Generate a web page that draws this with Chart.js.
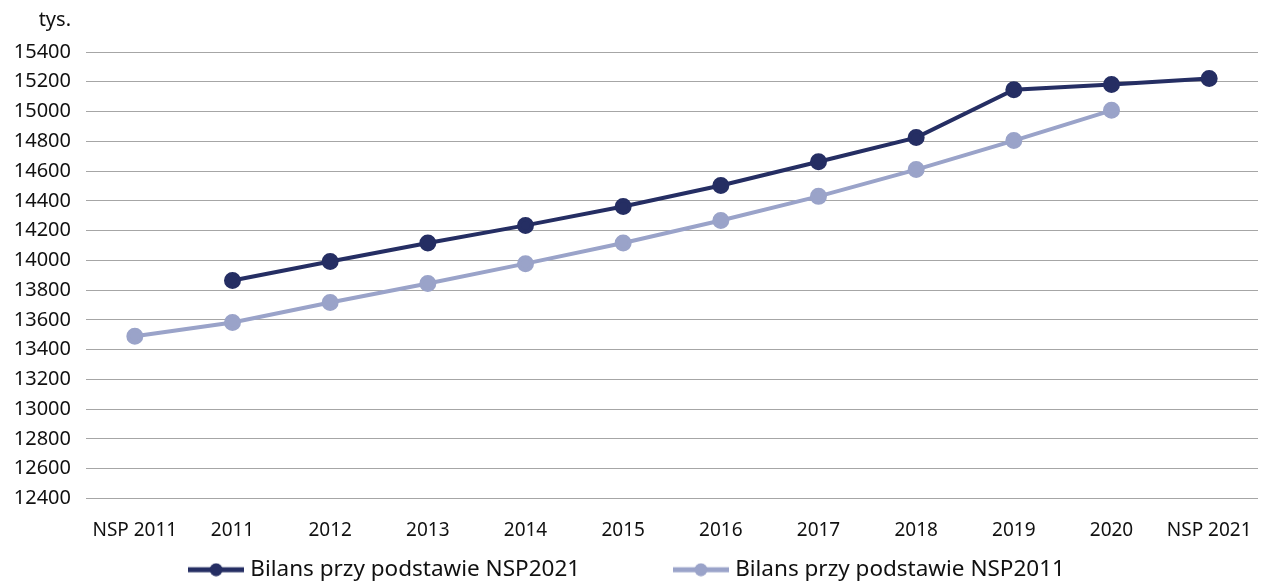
<!DOCTYPE html>
<html>
<head>
<meta charset="utf-8">
<script src="https://cdn.jsdelivr.net/npm/chart.js@4"></script>
<style>
  html, body { margin: 0; padding: 0; background: #fff; }
  #wrap { width: 1263px; height: 583px; }
</style>
</head>
<body>
<div id="wrap"><canvas id="chart"></canvas></div>
<script>
// dane (tys.)
var categories = ["NSP 2011", "2011", "2012", "2013", "2014", "2015", "2016", "2017", "2018", "2019", "2020", "NSP 2021"];
var bilans2021 = [null, 13865, 13992, 14117, 14235, 14362, 14503, 14663, 14825, 15147, 15182, 15222];
var bilans2011 = [13490, 13583, 13717, 13845, 13978, 14117, 14268, 14430, 14610, 14805, 15008, null];
var seriesNames = ["Bilans przy podstawie NSP2021", "Bilans przy podstawie NSP2011"];
var seriesColors = ["#252e63", "#9aa3c9"];
var unitLabel = "tys.";

Chart.defaults.font.family = "'Noto Sans', 'Open Sans', sans-serif";
Chart.defaults.color = "#111";

function legendIcon(color) {
  var c = document.createElement("canvas");
  c.width = 56; c.height = 14;
  var g = c.getContext("2d");
  g.strokeStyle = color;
  g.lineWidth = 5;
  g.beginPath(); g.moveTo(0, 7); g.lineTo(56, 7); g.stroke();
  g.fillStyle = color;
  g.beginPath(); g.arc(28, 7, 6.5, 0, Math.PI * 2); g.fill();
  return c;
}

var unitPlugin = {
  id: "unitLabel",
  afterDraw: function (chart) {
    var y = chart.scales.y, ctx = chart.ctx;
    ctx.save();
    ctx.font = "20px 'Noto Sans', sans-serif";
    ctx.fillStyle = "#111";
    ctx.textAlign = "right";
    ctx.textBaseline = "middle";
    ctx.fillText(unitLabel, y.right - 15, y.top - 32);
    ctx.restore();
  }
};

new Chart(document.getElementById("chart"), {
  type: "line",
  data: {
    labels: categories,
    datasets: [{
      label: seriesNames[0],
      data: bilans2021,
      borderColor: seriesColors[0],
      backgroundColor: seriesColors[0],
      borderWidth: 4,
      pointRadius: 6.5,
      pointHoverRadius: 6.5,
      tension: 0
    }, {
      label: seriesNames[1],
      data: bilans2011,
      borderColor: seriesColors[1],
      backgroundColor: seriesColors[1],
      borderWidth: 4,
      pointRadius: 6.5,
      pointHoverRadius: 6.5,
      tension: 0
    }]
  },
  options: {
    responsive: true,
    maintainAspectRatio: false,
    animation: false,
    layout: { autoPadding: false, padding: { top: 52, right: 5, left: 0, bottom: -8 } },
    scales: {
      x: {
        offset: true,
        grid: { display: false },
        border: { display: false },
        ticks: { font: { size: 19 }, color: "#111", padding: 13, maxRotation: 0, autoSkip: false },
        afterFit: function (scale) {
          scale.height = 50;
          scale.paddingLeft = 0;
          scale.paddingRight = 0;
        }
      },
      y: {
        min: 12400,
        max: 15400,
        ticks: {
          stepSize: 200, autoSkip: false, font: { size: 20 }, color: "#111", padding: 15,
          callback: function (v) { return String(v); }
        },
        grid: { color: "#a6a6a6", lineWidth: 1, drawTicks: false },
        border: { display: false },
        afterFit: function (scale) { scale.width = 86; }
      }
    },
    plugins: {
      legend: {
        position: "bottom",
        labels: {
          usePointStyle: true,
          pointStyleWidth: 46,
          padding: 10,
          color: "#111",
          font: { size: 22.5 },
          generateLabels: function (chart) {
            var items = Chart.defaults.plugins.legend.labels.generateLabels(chart);
            items.forEach(function (it, i) { it.pointStyle = legendIcon(seriesColors[i]); });
            // odstęp między pozycjami legendy
            items[0].text = items[0].text + "               ";
            return items;
          }
        }
      },
      tooltip: { enabled: false }
    }
  },
  plugins: [unitPlugin]
});
</script>
</body>
</html>
